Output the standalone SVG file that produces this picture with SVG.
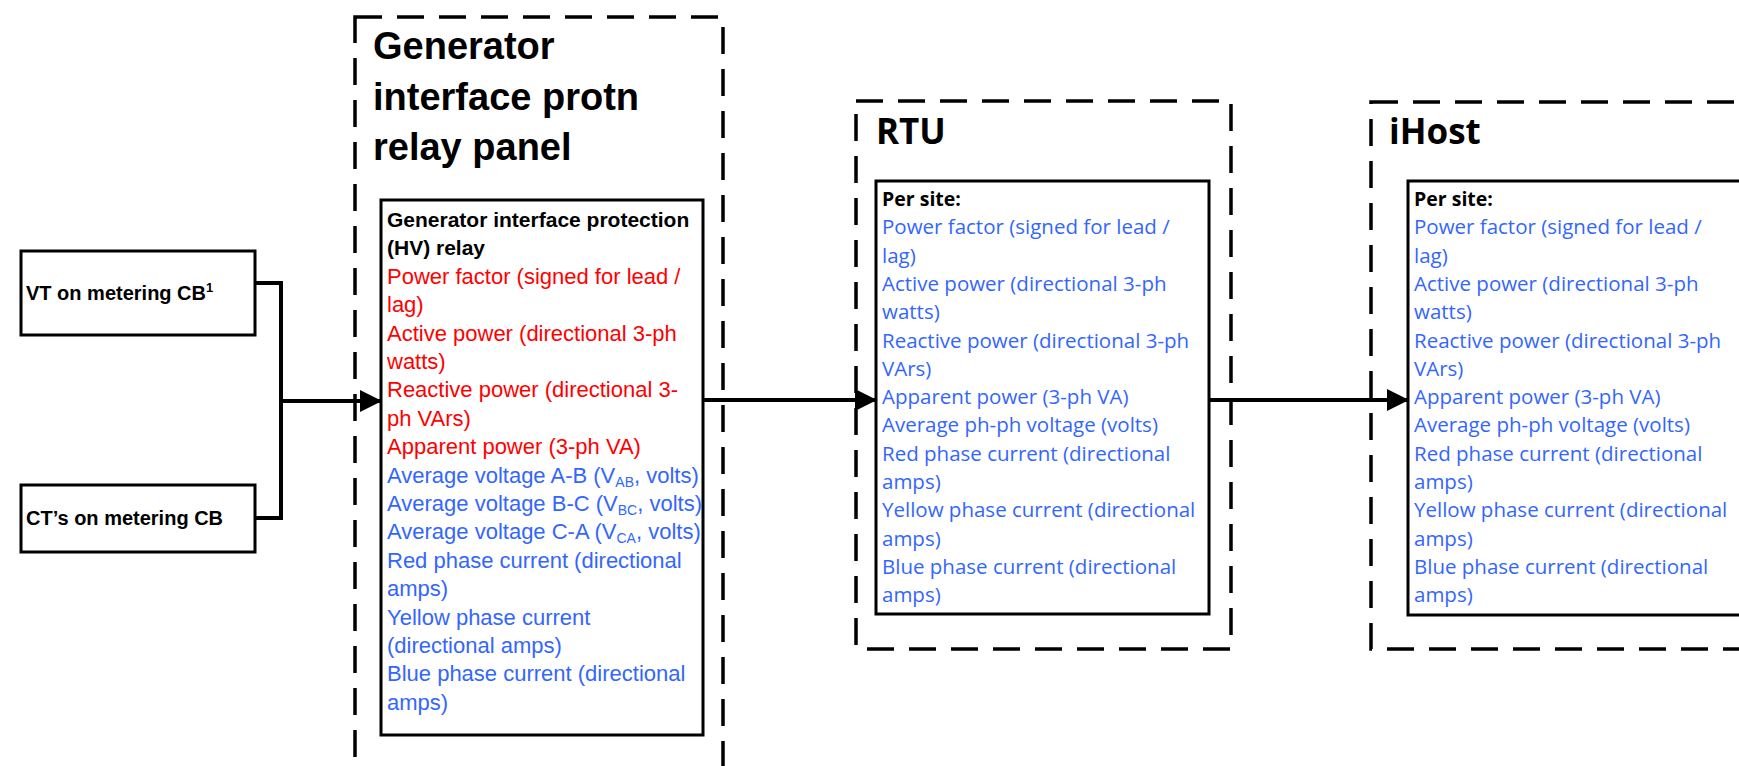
<svg xmlns="http://www.w3.org/2000/svg" width="1739" height="766" viewBox="0 0 1739 766">
  <style>
    .box { fill: #ffffff; stroke: #000000; stroke-width: 3; }
    .panel { fill: none; stroke: #000000; stroke-width: 3.5; stroke-dasharray: 27 15; }
    .wire { fill: none; stroke: #000000; stroke-width: 4; }
    .title { font-family: "Liberation Sans", Arial, sans-serif; font-weight: bold; font-size: 38px; fill: #000000; }
    .title2 { font-family: "Open Sans", "Liberation Sans", sans-serif; font-weight: bold; font-size: 35px; fill: #000000; }
    .lbl { font-family: "Liberation Sans", Arial, sans-serif; font-weight: bold; font-size: 20px; fill: #000000; }
    .head { font-family: "Liberation Sans", Arial, sans-serif; font-weight: bold; font-size: 21px; fill: #000000; }
    .body { font-family: "Liberation Sans", Arial, sans-serif; font-size: 22px; }
    .head2 { font-family: "Open Sans", "Liberation Sans", sans-serif; font-weight: bold; font-size: 19.5px; fill: #000000; }
    .body2 { font-family: "Open Sans", "Liberation Sans", sans-serif; font-size: 20.5px; fill: #3366ff; }
    .red { fill: #ff0000; }
    .blue { fill: #3366ff; }
    .sub { font-size: 14px; }
  </style>
  <defs>
    <marker id="arrow" markerUnits="userSpaceOnUse" markerWidth="22" markerHeight="22" refX="21" refY="11" orient="auto">
      <path d="M0,0 L22,11 L0,22 Z" fill="#000000"/>
    </marker>
  </defs>

  <rect width="1739" height="766" fill="#ffffff"/>

  <!-- measuring transformers -->
  <g id="vt">
    <rect class="box" x="21" y="251" width="234" height="84"/>
    <text class="lbl" x="26" y="300">VT on metering CB<tspan font-size="13" dy="-8">1</tspan></text>
  </g>
  <g id="ct">
    <rect class="box" x="21" y="485" width="234" height="67"/>
    <text class="lbl" x="26" y="525">CT’s on metering CB</text>
  </g>

  <!-- generator interface protection relay panel -->
  <g id="relay-panel">
    <rect class="panel" x="355" y="17" width="368" height="800"/>
    <text class="title" x="373" y="59">Generator</text>
    <text class="title" x="373" y="110">interface protn</text>
    <text class="title" x="373" y="160">relay panel</text>
  </g>
  <g id="relay">
    <rect class="box" x="381" y="200" width="322" height="535"/>
    <text class="head" x="387" y="227">Generator interface protection</text>
    <text class="head" x="387" y="255.4">(HV) relay</text>
    <g class="body">
      <text class="red" x="387" y="283.8">Power factor (signed for lead /</text>
      <text class="red" x="387" y="312.2">lag)</text>
      <text class="red" x="387" y="340.6">Active power (directional 3-ph</text>
      <text class="red" x="387" y="369">watts)</text>
      <text class="red" x="387" y="397.4">Reactive power (directional 3-</text>
      <text class="red" x="387" y="425.8">ph VArs)</text>
      <text class="red" x="387" y="454.2">Apparent power (3-ph VA)</text>
      <text class="blue" x="387" y="482.6">Average voltage A-B (V<tspan class="sub" dy="4">AB</tspan><tspan dy="-4">, volts)</tspan></text>
      <text class="blue" x="387" y="511">Average voltage B-C (V<tspan class="sub" dy="4">BC</tspan><tspan dy="-4">, volts)</tspan></text>
      <text class="blue" x="387" y="539.4">Average voltage C-A (V<tspan class="sub" dy="4">CA</tspan><tspan dy="-4">, volts)</tspan></text>
      <text class="blue" x="387" y="567.8">Red phase current (directional</text>
      <text class="blue" x="387" y="596.2">amps)</text>
      <text class="blue" x="387" y="624.6">Yellow phase current</text>
      <text class="blue" x="387" y="653">(directional amps)</text>
      <text class="blue" x="387" y="681.4">Blue phase current (directional</text>
      <text class="blue" x="387" y="709.8">amps)</text>
    </g>
  </g>

  <!-- RTU -->
  <g id="rtu-panel">
    <rect class="panel" x="856" y="101" width="375" height="548"/>
    <text class="title2" x="876" y="144">RTU</text>
  </g>
  <g id="rtu">
    <rect class="box" x="876" y="181" width="333" height="433"/>
    <text class="head2" x="882" y="206">Per site:</text>
    <g class="body2">
      <text x="882" y="234.3">Power factor (signed for lead /</text>
      <text x="882" y="262.6">lag)</text>
      <text x="882" y="290.9">Active power (directional 3-ph</text>
      <text x="882" y="319.2">watts)</text>
      <text x="882" y="347.5">Reactive power (directional 3-ph</text>
      <text x="882" y="375.8">VArs)</text>
      <text x="882" y="404.1">Apparent power (3-ph VA)</text>
      <text x="882" y="432.4">Average ph-ph voltage (volts)</text>
      <text x="882" y="460.7">Red phase current (directional</text>
      <text x="882" y="489">amps)</text>
      <text x="882" y="517.3">Yellow phase current (directional</text>
      <text x="882" y="545.6">amps)</text>
      <text x="882" y="573.9">Blue phase current (directional</text>
      <text x="882" y="602.2">amps)</text>
    </g>
  </g>

  <!-- iHost -->
  <g id="ihost-panel">
    <rect class="panel" x="1371" y="102" width="420" height="547"/>
    <text class="title2" x="1389" y="144">iHost</text>
  </g>
  <g id="ihost">
    <rect class="box" x="1408" y="181" width="380" height="434"/>
    <text class="head2" x="1414" y="206">Per site:</text>
    <g class="body2">
      <text x="1414" y="234.3">Power factor (signed for lead /</text>
      <text x="1414" y="262.6">lag)</text>
      <text x="1414" y="290.9">Active power (directional 3-ph</text>
      <text x="1414" y="319.2">watts)</text>
      <text x="1414" y="347.5">Reactive power (directional 3-ph</text>
      <text x="1414" y="375.8">VArs)</text>
      <text x="1414" y="404.1">Apparent power (3-ph VA)</text>
      <text x="1414" y="432.4">Average ph-ph voltage (volts)</text>
      <text x="1414" y="460.7">Red phase current (directional</text>
      <text x="1414" y="489">amps)</text>
      <text x="1414" y="517.3">Yellow phase current (directional</text>
      <text x="1414" y="545.6">amps)</text>
      <text x="1414" y="573.9">Blue phase current (directional</text>
      <text x="1414" y="602.2">amps)</text>
    </g>
  </g>

  <!-- connectors -->
  <g id="connectors">
    <path class="wire" d="M255,283 H281 V518 H255"/>
    <path class="wire" d="M281,401 H381" marker-end="url(#arrow)"/>
    <path class="wire" d="M703,400 H876" marker-end="url(#arrow)"/>
    <path class="wire" d="M1209,400 H1408" marker-end="url(#arrow)"/>
  </g>
</svg>
